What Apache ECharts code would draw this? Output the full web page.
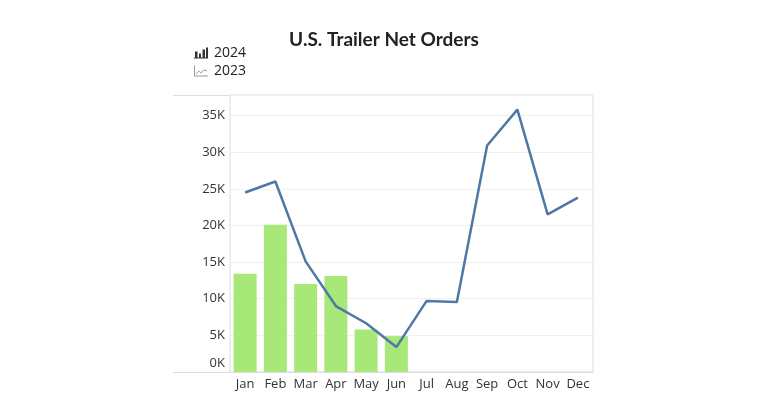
<!DOCTYPE html>
<html><head><meta charset="utf-8">
<script src="https://cdn.jsdelivr.net/npm/echarts@6/dist/echarts.min.js"></script>
<style>html,body{margin:0;padding:0;background:#fff}#c{width:768px;height:403px}</style>
</head><body><div id="c"></div>
<script>
const months = ['Jan','Feb','Mar','Apr','May','Jun','Jul','Aug','Sep','Oct','Nov','Dec'];
const orders2024 = [13400, 20100, 12000, 13100, 5800, 4900, null, null, null, null, null, null];
const orders2023 = [24500, 26000, 15100, 9000, 6650, 3400, 9700, 9560, 30900, 35800, 21500, 23800];
const yTicks = [0, 5000, 10000, 15000, 20000, 25000, 30000, 35000];

const FONT = 'Open Sans';
const chart = echarts.init(document.getElementById('c'));
chart.setOption({
  animation: false,
  textStyle: {fontFamily: FONT},
  title: {
    text: 'U.S. Trailer Net Orders', left: 'center', top: 25,
    textStyle: {fontFamily: 'Lato', fontSize: 19, fontWeight: 'bold', color: '#222'}
  },
  legend: {
    orient: 'vertical', left: 189, top: 41, itemWidth: 14, itemHeight: 11, itemGap: 4,
    textStyle: {fontSize: 14, color: '#222', fontFamily: FONT, padding: [0, 0, 0, 1]},
    data: [
      {name: '2024', icon: 'path://M0,10 L14,10 L14,11 L0,11 Z M1,4 L3.5,4 L3.5,10 L1,10 Z M5,6 L7,6 L7,10 L5,10 Z M8.5,2 L11,2 L11,10 L8.5,10 Z M12,0 L14,0 L14,10 L12,10 Z', itemStyle: {color: '#333'}},
      {name: '2023', icon: 'path://M0,0 L1,0 L1,10 L14,10 L14,11 L0,11 Z M2,8 L5,5 L7,7 L10,4 L13,5 L13,6 L10,5 L7,8 L5,6 L2,9 Z', itemStyle: {color: '#999'}}
    ]
  },
  grid: {left: 230, right: 175, top: 95, bottom: 31, show: true, borderColor: '#ddd', borderWidth: 1},
  graphic: [
    {type: 'line', shape: {x1: 173, y1: 95.5, x2: 230, y2: 95.5}, style: {stroke: '#ddd', lineWidth: 1}},
    {type: 'line', shape: {x1: 173, y1: 372.5, x2: 230, y2: 372.5}, style: {stroke: '#ddd', lineWidth: 1}}
  ],
  xAxis: {
    type: 'category', data: months,
    axisLine: {show: true, lineStyle: {color: '#ddd'}},
    axisTick: {show: false},
    axisLabel: {color: '#333', fontSize: 13, margin: 6, interval: 0, fontFamily: FONT}
  },
  yAxis: {
    type: 'value', min: 0, max: 37800, interval: 5000,
    axisLine: {show: false}, axisTick: {show: false},
    splitLine: {lineStyle: {color: '#f0f0f0'}},
    axisLabel: {
      color: '#333', fontSize: 13, margin: 5, showMaxLabel: false, fontFamily: FONT,
      formatter: function (v) {
        if (yTicks.indexOf(v) < 0) return '';
        const t = (v / 1000) + 'K';
        return v === 0 ? '{z|' + t + '}' : t;
      },
      rich: {z: {padding: [0, 0, 17, 0], fontSize: 13, color: '#333', fontFamily: FONT}}
    }
  },
  series: [
    {name: '2024', type: 'bar', data: orders2024, barWidth: '76%', itemStyle: {color: '#A7E878'}},
    {name: '2023', type: 'line', data: orders2023, symbol: 'none', lineStyle: {color: '#4E79A7', width: 2.5}, itemStyle: {color: '#4E79A7'}}
  ]
});
</script></body></html>
